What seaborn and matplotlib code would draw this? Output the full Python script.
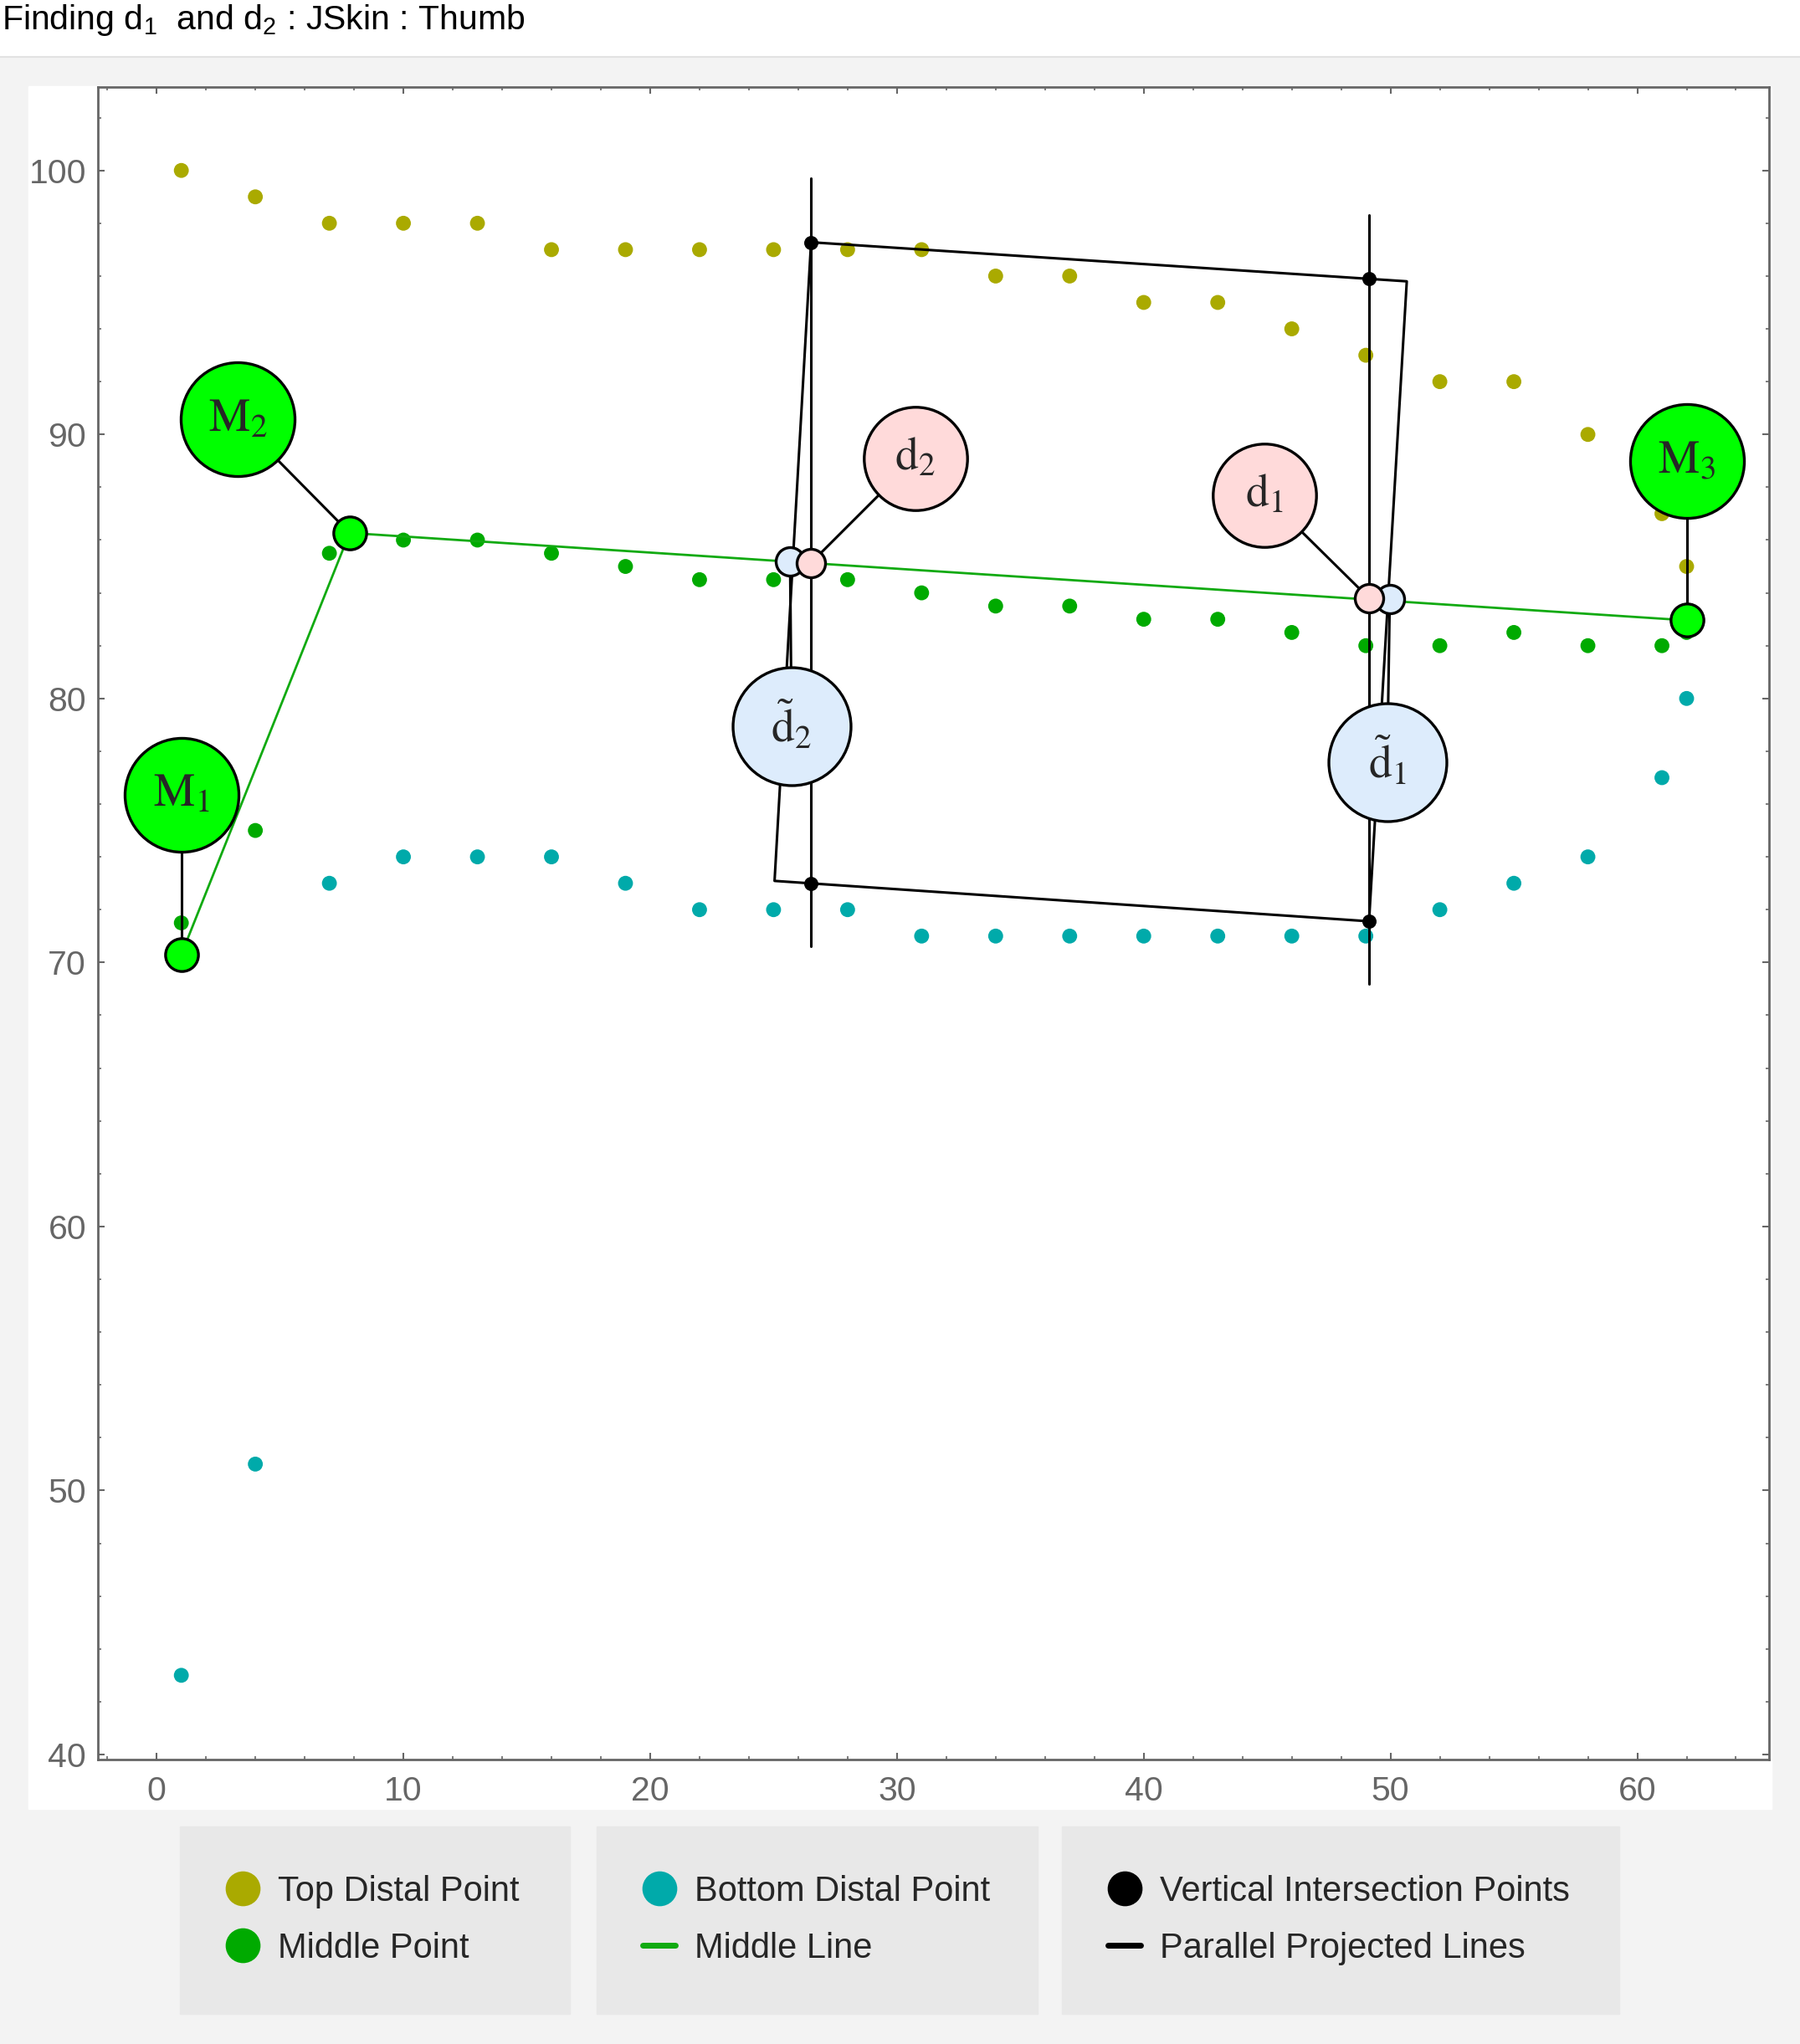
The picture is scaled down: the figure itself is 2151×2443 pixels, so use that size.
import matplotlib
matplotlib.use("Agg")
import matplotlib.pyplot as plt
import seaborn as sns
import pandas as pd
from matplotlib.lines import Line2D
from matplotlib.patches import Rectangle

# --- Data ----------------------------------------------------------------------------------------
x_pos = [1, 4, 7, 10, 13, 16, 19, 22, 25, 28, 31, 34, 37, 40, 43, 46, 49, 52, 55, 58, 61, 62]
top_y = [100, 99, 98, 98, 98, 97, 97, 97, 97, 97, 97, 96, 96, 95, 95, 94, 93, 92, 92, 90, 87, 85]
middle_y = [71.5, 75, 85.5, 86, 86, 85.5, 85, 84.5, 84.5, 84.5, 84, 83.5, 83.5, 83, 83, 82.5,
            82, 82, 82.5, 82, 82, 82.5]
bottom_y = [43, 51, 73, 74, 74, 74, 73, 72, 72, 72, 71, 71, 71, 71, 71, 71, 71, 72, 73, 74, 77, 80]

# middle line M1 -> M2 -> M3
middle_line_x = [1.0, 7.82, 62.0]
middle_line_y = [70.3, 86.27, 82.96]

# vertical lines through the two cut positions
vert_x = [26.52, 49.13]
vert_top = [99.7, 98.3]
vert_bottom = [70.6, 69.2]

# vertical intersection points
inter_x = [26.52, 26.52, 49.13, 49.13]
inter_y = [97.28, 72.99, 95.9, 71.56]

# parallel projected lines (closed outline)
proj_x = [26.52, 50.66, 49.13, 25.04, 26.52]
proj_y = [97.28, 95.8, 71.56, 73.09, 97.28]

# callouts: point on the chart and the bubble holding its name
callout_text = [r"$\mathrm{M}_1$", r"$\mathrm{M}_2$", r"$\mathrm{M}_3$",
                r"$\tilde{\mathrm{d}}_2$", r"$\tilde{\mathrm{d}}_1$",
                r"$\mathrm{d}_2$", r"$\mathrm{d}_1$"]
callout_kind = ["M", "M", "M", "dt", "dt", "d", "d"]
point_x = [1.0, 7.82, 62.0, 25.67, 49.97, 26.52, 49.13]
point_y = [70.3, 86.27, 82.96, 85.19, 83.75, 85.14, 83.8]
label_x = [1.0, 3.28, 62.0, 25.73, 49.87, 30.75, 44.9]
label_y = [76.35, 90.57, 88.99, 78.96, 77.58, 89.09, 87.7]

legend_labels = [["Top Distal Point", "Middle Point"],
                 ["Bottom Distal Point", "Middle Line"],
                 ["Vertical Intersection Points", "Parallel Projected Lines"]]

# --- Style ----------------------------------------------------------------------------------------
OLIVE, GREEN, TEAL = "#aaaa00", "#00aa00", "#00aaaa"
LINE_GREEN = "#11aa11"
FILL = {"M": "#00ff00", "d": "#ffdada", "dt": "#ddecfc"}
POINT_S = {"M": 800, "d": 600, "dt": 600}
BUBBLE_S = {"M": 9600, "d": 7900, "dt": 10300}
W, H = 2151, 2443

sns.set_style("ticks")
plt.rcParams["font.family"] = ["Liberation Sans", "DejaVu Sans"]
plt.rcParams["mathtext.fontset"] = "custom"
plt.rcParams["mathtext.rm"] = "Liberation Sans"
plt.rcParams["mathtext.it"] = "Liberation Sans:italic"
plt.rcParams["mathtext.bf"] = "Liberation Sans:bold"


def fx(px):
    return px / W


def fy(py):
    return 1 - py / H


fig = plt.figure(figsize=(W / 100, H / 100), dpi=100, facecolor="white")

# page background, white plot panel, legend boxes
fig.add_artist(Rectangle((0, 0), 1, fy(68), transform=fig.transFigure, color="#f3f3f3", zorder=0))
fig.add_artist(Line2D([0, 1], [fy(68), fy(68)], transform=fig.transFigure, color="#e2e2e2", lw=1.5))
fig.add_artist(Rectangle((fx(34), fy(2162)), fx(2117) - fx(34), fy(103) - fy(2162),
                         transform=fig.transFigure, color="white", zorder=0))
box_left = [215, 713, 1269]
box_right = [681, 1240, 1935]
for bl, br in zip(box_left, box_right):
    fig.add_artist(Rectangle((fx(bl), fy(2407)), fx(br) - fx(bl), fy(2183) - fy(2407),
                             transform=fig.transFigure, color="#e8e8e8", zorder=0))

fig.text(fx(2), fy(35), r"Finding $\mathrm{d}_1$  and $\mathrm{d}_2$ : JSkin : Thumb",
         fontsize=29.5, va="baseline", ha="left", color="black")

ax = fig.add_axes([fx(117), fy(2103), fx(2114) - fx(117), fy(104) - fy(2103)])
ax.set_facecolor("white")

df = pd.DataFrame({
    "x": x_pos * 3,
    "y": top_y + middle_y + bottom_y,
    "series": ["top"] * len(x_pos) + ["middle"] * len(x_pos) + ["bottom"] * len(x_pos),
})
sns.scatterplot(data=df, x="x", y="y", hue="series",
                palette={"top": OLIVE, "middle": GREEN, "bottom": TEAL},
                s=165, edgecolor="none", legend=False, ax=ax, zorder=2)

ax.plot(middle_line_x, middle_line_y, color=LINE_GREEN, lw=2.0, zorder=3)
for vx, vt, vb in zip(vert_x, vert_top, vert_bottom):
    ax.plot([vx, vx], [vb, vt], color="black", lw=2.2, zorder=3)
ax.plot(proj_x, proj_y, color="black", lw=2.2, zorder=3)
ax.scatter(inter_x, inter_y, s=125, color="black", zorder=4)

# callouts
for i in range(len(callout_text)):
    ax.plot([label_x[i], point_x[i]], [label_y[i], point_y[i]], color="black", lw=2.2, zorder=5)
for i, kind in enumerate(callout_kind):
    ax.scatter(point_x[i], point_y[i], s=POINT_S[kind], color=FILL[kind],
               edgecolors="black", linewidths=2.4, zorder=6)
    ax.scatter(label_x[i], label_y[i], s=BUBBLE_S[kind], color=FILL[kind],
               edgecolors="black", linewidths=2.4, zorder=7)
    ax.text(label_x[i], label_y[i], callout_text[i], fontsize=40, ha="center", va="center",
            math_fontfamily="stix", zorder=8)

ax.set_xlim(-2.38, 65.34)
ax.set_ylim(39.81, 103.16)
ax.set_xticks(range(0, 61, 10))
ax.set_yticks(range(40, 101, 10))
ax.set_xticks(range(-2, 66, 2), minor=True)
ax.set_yticks(range(40, 104, 2), minor=True)
ax.set_xlabel("")
ax.set_ylabel("")
for sp in ax.spines.values():
    sp.set_color("#666666")
    sp.set_linewidth(2)
ax.tick_params(which="both", direction="in", top=True, right=True, color="#666666")
ax.tick_params(which="major", length=6, width=1.5, labelsize=29.5, labelcolor="#666666")
ax.tick_params(which="minor", length=3, width=1.2)
ax.tick_params(axis="x", which="major", pad=14)
ax.tick_params(axis="y", which="major", pad=10)

# legends
marker_colors = [[OLIVE, GREEN], [TEAL, LINE_GREEN], ["black", "black"]]
is_line = [[False, False], [False, True], [False, True]]
for k in range(3):
    handles = []
    for col, ln in zip(marker_colors[k], is_line[k]):
        if ln:
            handles.append(Line2D([], [], color=col, lw=5))
        else:
            handles.append(Line2D([], [], color=col, marker="o", ls="none", markersize=29))
    fig.legend(handles, legend_labels[k], loc="center left",
               bbox_to_anchor=(fx(box_left[k] + 55), fy(2295)), frameon=False,
               borderpad=0, borderaxespad=0, handlelength=0.94, handletextpad=0.55,
               labelspacing=0.67, fontsize=30)

fig.savefig("out.png", dpi=100, facecolor=fig.get_facecolor())
